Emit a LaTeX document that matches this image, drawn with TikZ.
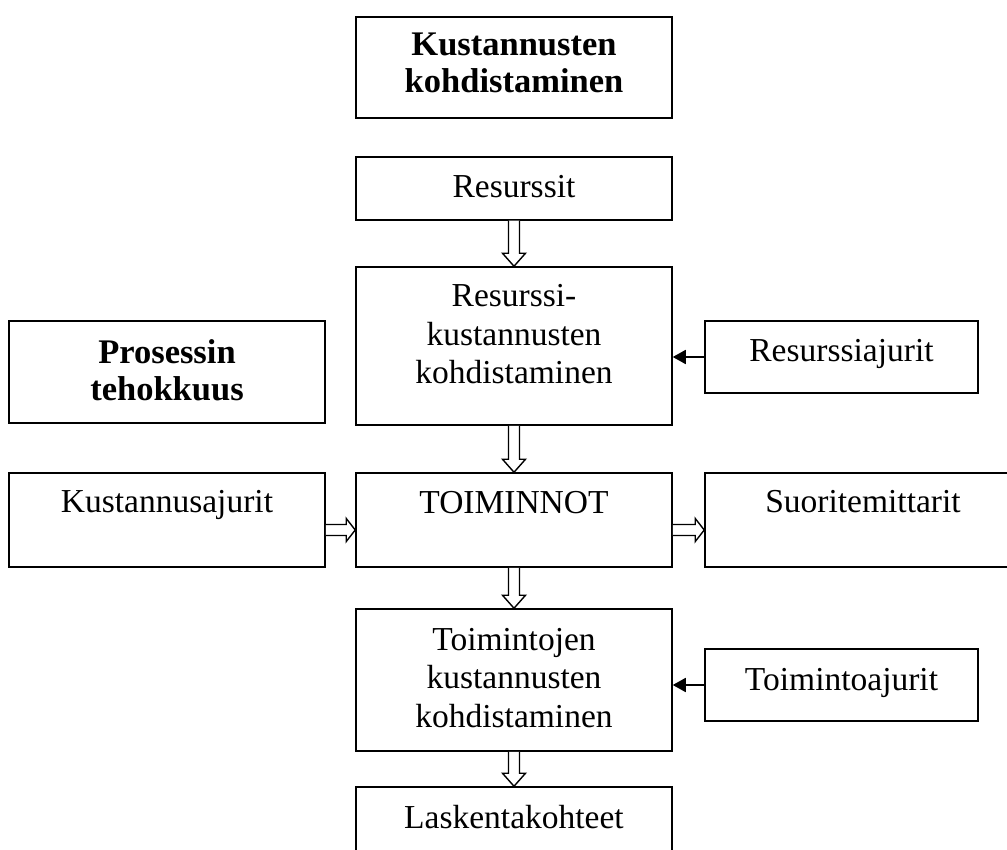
\documentclass[tikz,border=0pt]{standalone}
\usepackage{fontspec}
\setmainfont{Liberation Serif}
\usetikzlibrary{arrows.meta,calc}
\tikzset{
  box/.style={draw, line width=1.5pt, inner sep=0pt, rectangle},
  txt/.style={anchor=base, inner sep=0pt, font=\fontsize{33.5}{38}\selectfont},
  btxt/.style={txt, font=\fontsize{34.5}{38}\selectfont\bfseries},
  hol/.style={draw, line width=1.4pt, fill=white, line join=miter},
  solidarr/.style={line width=1.8pt, -{Triangle[length=13pt,width=14pt]}}
}
\newcommand\varr[2]{\draw[hol] let \p1=(#1.south), \p2=(#2.north) in
  (\x1-5.5pt,\y1) -- (\x1-5.5pt,\y2+13pt) -- (\x1-11.5pt,\y2+13pt) -- (\x1,\y2)
  -- (\x1+11.5pt,\y2+13pt) -- (\x1+5.5pt,\y2+13pt) -- (\x1+5.5pt,\y1);}
\newcommand\harr[2]{\draw[hol] let \p1=($(#1.east)+(0,10)$), \p2=(#2.west) in
  (\x1,\y1+5.5pt) -- (\x2-9pt,\y1+5.5pt) -- (\x2-9pt,\y1+11.5pt) -- (\x2,\y1)
  -- (\x2-9pt,\y1-11.5pt) -- (\x2-9pt,\y1-5.5pt) -- (\x1,\y1-5.5pt);}
\begin{document}
\begin{tikzpicture}[x=1pt,y=-1pt]
\useasboundingbox (0,0) rectangle (1007,850);
\clip (0,0) rectangle (1007,850);
\fill[white] (0,0) rectangle (1007,850);
% boxes
\node[box, minimum width=316pt, minimum height=101pt] (top) at (514,67.5) {};
\node[box, minimum width=316pt, minimum height=63pt] (res) at (514,188.5) {};
\node[box, minimum width=316pt, minimum height=158pt] (resk) at (514,346) {};
\node[box, minimum width=316pt, minimum height=102pt] (pros) at (167,372) {};
\node[box, minimum width=273pt, minimum height=72pt] (resaj) at (841.5,357) {};
\node[box, minimum width=316pt, minimum height=94pt] (toim) at (514,520) {};
\node[box, minimum width=316pt, minimum height=94pt] (kust) at (167,520) {};
\node[box, minimum width=316pt, minimum height=94pt] (suor) at (863,520) {};
\node[box, minimum width=316pt, minimum height=142pt] (toimk) at (514,680) {};
\node[box, minimum width=273pt, minimum height=72pt] (toimaj) at (841.5,685) {};
\node[box, minimum width=316pt, minimum height=90pt] (lask) at (514,832) {};
% texts
\node[btxt] (topa) at (514,56) {Kustannusten};
\node[btxt] (topb) at (514,93) {kohdistaminen};
\node[txt] (rest) at (514,198) {Resurssit};
\node[txt] (reska) at (514,307) {Resurssi-};
\node[txt] (reskb) at (514,346) {kustannusten};
\node[txt] (reskc) at (514,383) {kohdistaminen};
\node[btxt] (prosa) at (167,363) {Prosessin};
\node[btxt] (prosb) at (167,400) {tehokkuus};
\node[txt] (resajt) at (841.5,362) {Resurssiajurit};
\node[txt] (toimt) at (514,513) {TOIMINNOT};
\node[txt] (kustt) at (167,512) {Kustannusajurit};
\node[txt] (suort) at (863,512) {Suoritemittarit};
\node[txt] (toimka) at (514,650) {Toimintojen};
\node[txt] (toimkb) at (514,688) {kustannusten};
\node[txt] (toimkc) at (514,727) {kohdistaminen};
\node[txt] (toimajt) at (841.5,690) {Toimintoajurit};
\node[txt] (laskt) at (514,828) {Laskentakohteet};
% arrows
\varr{res}{resk}
\varr{resk}{toim}
\varr{toim}{toimk}
\varr{toimk}{lask}
\harr{kust}{toim}
\harr{toim}{suor}
\draw[solidarr] (resaj.west) -- (resk.east |- resaj.west);
\draw[solidarr] (toimaj.west) -- (toimk.east |- toimaj.west);
\end{tikzpicture}
\end{document}
